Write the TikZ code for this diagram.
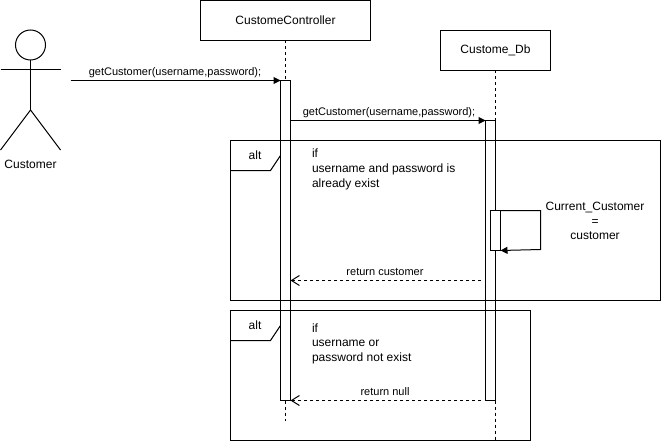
\documentclass[tikz,border=0pt]{standalone}
\usepackage{fontspec}
\setmainfont{Liberation Sans}
\usetikzlibrary{arrows.meta}
\tikzset{
  every node/.style={font=\fontsize{12}{14.7}\selectfont, inner sep=0pt, outer sep=0pt},
  small/.style={font=\fontsize{11}{14}\selectfont},
  ln/.style={line width=1pt, draw=black},
  box/.style={ln, fill=white, rectangle, anchor=north west},
  act/.style={ln, fill=white, rectangle, minimum width=10pt},
  life/.style={ln, dash pattern=on 3pt off 3pt},
  msg/.style={ln, -{Triangle[length=7pt,width=7pt]}},
  ret/.style={ln, dash pattern=on 3pt off 3pt, -{Straight Barb[length=8pt,width=10pt]}},
  lbl/.style={align=center},
  cond/.style={align=left, anchor=north west},
}
\begin{document}
\begin{tikzpicture}[x=1pt,y=-1pt]
\useasboundingbox (0,0) rectangle (661,441);
\fill[white] (0,0) rectangle (661,441);
% actor
\coordinate (hip) at (30.5,110);
\coordinate (armL) at (0.5,70);
\coordinate (armR) at (60.5,70);
\coordinate (footL) at (0.5,150);
\coordinate (footR) at (60.5,150);
\node[ln, circle, minimum size=30pt] (head) at (30.5,45) {};
\draw[ln] (head.south) -- (hip);
\draw[ln] (armL) -- (armR);
\draw[ln] (footL) -- (hip) -- (footR);
\node (customer) at (30.5,164) {Customer};
% heads and lifelines
\node[box, minimum width=170pt, minimum height=40pt] (ctrl) at (200.5,0.5) {};
\node (ctrlt) at (ctrl.center) {CustomeController};
\node[box, minimum width=110pt, minimum height=40pt] (db) at (440.5,30.5) {};
\node (dbt) at (db.center) {Custome\_Db};
\node[act, minimum height=320pt] (a1) at (285.5,240.5) {};
\node[act, minimum height=280pt] (a2) at (490.5,260.5) {};
\coordinate (end1) at (285.5,421);
\coordinate (end2) at (495.5,441);
\draw[life] (ctrl.south) -- (a1.north);
\draw[life] (a1.south) -- (end1);
\draw[life] (db.south) -- (a2.north east);
\draw[life] (a2.south east) -- (end2);
% frames
\node[box, minimum width=430pt, minimum height=160pt, fill=none] (f1) at (230.5,140.5) {};
\node[box, minimum width=300pt, minimum height=130pt, fill=none] (f2) at (230.5,310.5) {};
\coordinate (t1a) at (230.5,170.5);
\coordinate (t1b) at (270.5,170.5);
\coordinate (t1c) at (280.5,155.5);
\coordinate (t2a) at (230.5,340.5);
\coordinate (t2b) at (270.5,340.5);
\coordinate (t2c) at (280.5,325.5);
\draw[ln] (t1a) -- (t1b) -- (t1c);
\draw[ln] (t2a) -- (t2b) -- (t2c);
\node (alt1) at (255,155) {alt};
\node (alt2) at (255,325) {alt};
\node[cond] (c1) at (312,149) {if\\username and password is\\already exist};
\node[cond] (c2) at (312,323.5) {if\\username or\\password not exist};
% self call
\node[act, minimum height=40pt] (a3) at (495.5,230.5) {};
\node[lbl] (cur) at (595,221) {Current\_Customer\\=\\customer};
\coordinate (s1) at (540.5,210.5);
\coordinate (s2) at (540.5,249.5);
% messages
\coordinate (start) at (70.5,80.5);
\node[small, anchor=south] (m1) at (175,78) {getCustomer(username,password);};
\draw[msg] (start) -- (a1.north west);
\node[small, anchor=south] (m2) at (389,118) {getCustomer(username,password);};
\draw[msg] (a1.east |- a2.north) -- (a2.north west);
\draw[msg] (a3.north east) -- (s1) -- (s2) -- (a3.south east);
\coordinate (r1s) at (481,280.5);
\coordinate (r2s) at (481,400.5);
\node[small, anchor=south] (r1) at (385,275.5) {return customer};
\node[small, anchor=south] (r2) at (385,395.5) {return null};
\draw[ret] (r1s) -- (a1.east |- r1s);
\draw[ret] (r2s) -- (a1.east |- r2s);
\end{tikzpicture}
\end{document}
